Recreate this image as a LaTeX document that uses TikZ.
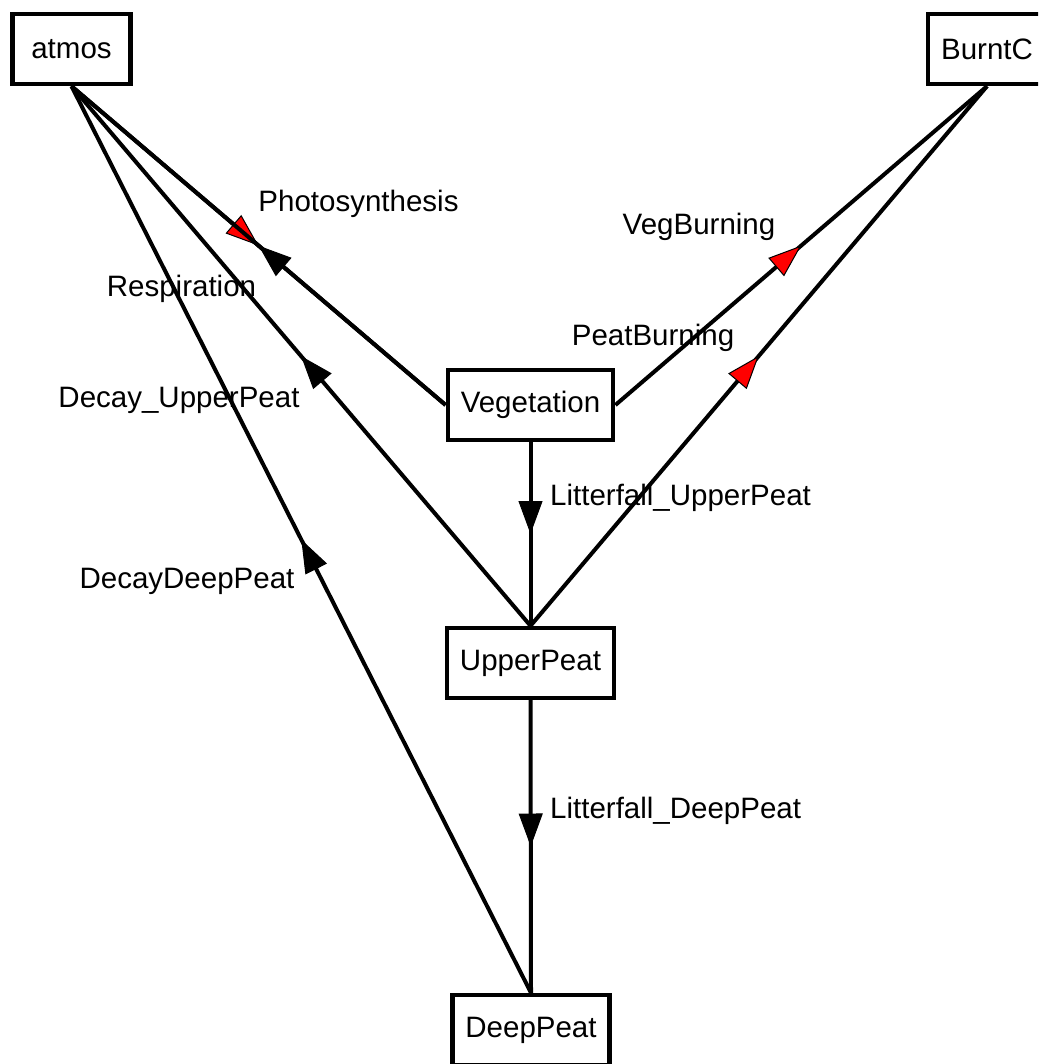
\documentclass[tikz,border=0pt]{standalone}
\usepackage{fontspec}
\setmainfont{Liberation Sans}
\usetikzlibrary{arrows.meta,decorations.markings}
\begin{document}
\begin{tikzpicture}[x=1pt,y=-1pt,
  stock/.style={draw,line width=4.4pt,minimum height=70pt,inner xsep=13pt,font=\fontsize{29.5}{35}\selectfont},
  flowlbl/.style={font=\fontsize{29.5}{35}\selectfont},
  flowblk/.style={line width=4pt,postaction={decorate},decoration={markings,mark=at position 0.5 with {\arrow{Triangle[length=33pt,width=24pt,line width=1pt,fill=black]}}}},
  flowred/.style={line width=4pt,postaction={decorate},decoration={markings,mark=at position 0.5 with {\arrow{Triangle[length=33pt,width=24pt,line width=1pt,fill=red]}}}}]
\clip (0,0) rectangle (1038,1064);
\node[stock,minimum width=118pt] (atmos) at (71.5,49) {atmos};
\node[stock,minimum width=118pt] (BurntC) at (987,49) {BurntC};
\node[stock] (Vegetation) at (530.5,405) {Vegetation};
\node[stock] (UpperPeat) at (530.5,663) {UpperPeat};
\node[stock] (DeepPeat) at (531,1030) {DeepPeat};
\draw[flowred] (atmos.south) -- (Vegetation.west);
\draw[flowblk] (Vegetation.west) -- (atmos.south);
\draw[flowblk] (UpperPeat.north) -- (atmos.south);
\draw[flowblk] (DeepPeat.north) -- (atmos.south);
\draw[flowred] (Vegetation.east) -- (BurntC.south);
\draw[flowred] (UpperPeat.north) -- (BurntC.south);
\draw[flowblk] (Vegetation.south) -- (UpperPeat.north);
\draw[flowblk] (UpperPeat.south) -- (DeepPeat.north);
\node[flowlbl,anchor=base] (lPhoto) at (358.5,212) {Photosynthesis};
\node[flowlbl,anchor=base] (lResp) at (181.5,297) {Respiration};
\node[flowlbl,anchor=base] (lDecUP) at (179,407) {Decay\_UpperPeat};
\node[flowlbl,anchor=base] (lDecDP) at (187,588) {DecayDeepPeat};
\node[flowlbl,anchor=base] (lVegB) at (699,235) {VegBurning};
\node[flowlbl,anchor=base] (lPeatB) at (653,345) {PeatBurning};
\node[flowlbl,anchor=base west,inner xsep=0pt] (lLitUP) at (550,505) {Litterfall\_UpperPeat};
\node[flowlbl,anchor=base west,inner xsep=0pt] (lLitDP) at (550,818) {Litterfall\_DeepPeat};
\end{tikzpicture}
\end{document}
